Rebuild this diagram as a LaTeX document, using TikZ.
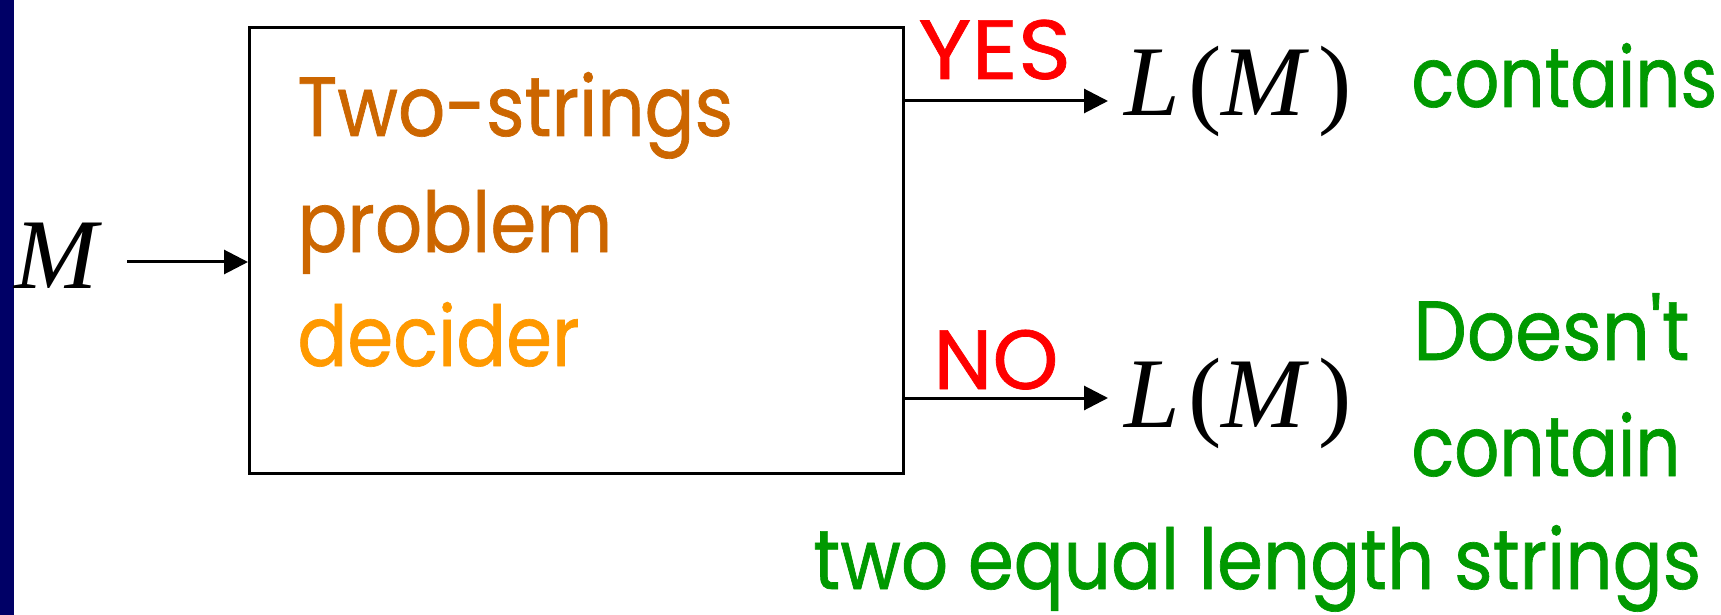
\documentclass[tikz,border=0pt]{standalone}
\usepackage{fontspec}
\setmainfont{Poppins}
\newfontfamily\comicn[FakeStretch=0.88,FakeBold=0.8]{Poppins}
\newfontfamily\comics[FakeStretch=0.84,FakeBold=0.8]{Poppins}
\newfontfamily\comicd[FakeStretch=0.9,FakeBold=0.8]{Poppins}
\newfontfamily\comicr[FakeBold=0.8]{Poppins}
\newfontfamily\comicw[FakeStretch=1.08,FakeBold=0.8]{Poppins}
\newfontfamily\timesf{Liberation Serif}
\usetikzlibrary{arrows.meta}
\definecolor{navy}{RGB}{0,0,102}
\definecolor{darkor}{RGB}{204,102,0}
\definecolor{lightor}{RGB}{255,153,0}
\definecolor{grn}{RGB}{0,153,0}
\definecolor{rd}{RGB}{255,0,0}
\tikzset{
  txt/.style={inner sep=0pt, anchor=base west},
  mathtxt/.style={txt, font=\timesf\fontsize{50}{50}\selectfont},
  boxtxt/.style={txt, font=\comicn\fontsize{42}{42}\selectfont},
  lbl/.style={txt, text=rd, font=\comicr\fontsize{42}{42}\selectfont},
  gtxt/.style={txt, text=grn, font=\comicn\fontsize{42}{42}\selectfont},
  gtxts/.style={gtxt, font=\comics\fontsize{42}{42}\selectfont},
  conn/.style={line width=1.5pt, -{Triangle[length=12pt,width=12pt]}},
}
\newcommand{\LofM}{\itshape L\kern4pt\upshape(\itshape M\kern7pt\upshape)}
\begin{document}
\begin{tikzpicture}[x=0.5pt,y=-0.5pt]
\useasboundingbox (0,0) rectangle (1721,615);
\fill[navy] (0,0) rectangle (14,615);
\node[mathtxt] (m) at (14,288) {\itshape M};
\node[draw, line width=1.5pt, minimum width=327pt, minimum height=223pt, inner sep=0pt, anchor=north west] (box) at (248,26) {};
\node[boxtxt, text=darkor] (t1) at (297,136) {Two-strings};
\node[boxtxt, text=darkor] (t2) at (297,252) {problem};
\node[boxtxt, text=lightor] (t3) at (297,366) {decider};
\coordinate (min) at (127,262);
\draw[conn] (min) -- (box.west |- min);
\coordinate (ye) at (1108,101);
\coordinate (ne) at (1108,398);
\draw[conn] (box.east |- ye) -- (ye);
\draw[conn] (box.east |- ne) -- (ne);
\node[mathtxt] (l1) at (1124,116) {\LofM};
\node[mathtxt] (l2) at (1124,427) {\LofM};
\node[lbl, font=\comicw\fontsize{42}{42}\selectfont] (yes) at (918,79) {YES};
\node[lbl] (nol) at (933,389) {NO};
\node[gtxts] (c1) at (1411,107) {contains};
\node[gtxt, font=\comicd\fontsize{42}{42}\selectfont] (c2) at (1413,360) {Doesn't};
\node[gtxts] (c3) at (1411,476) {contain};
\node[gtxt] (c4) at (813,589) {two equal length strings};
\end{tikzpicture}
\end{document}
